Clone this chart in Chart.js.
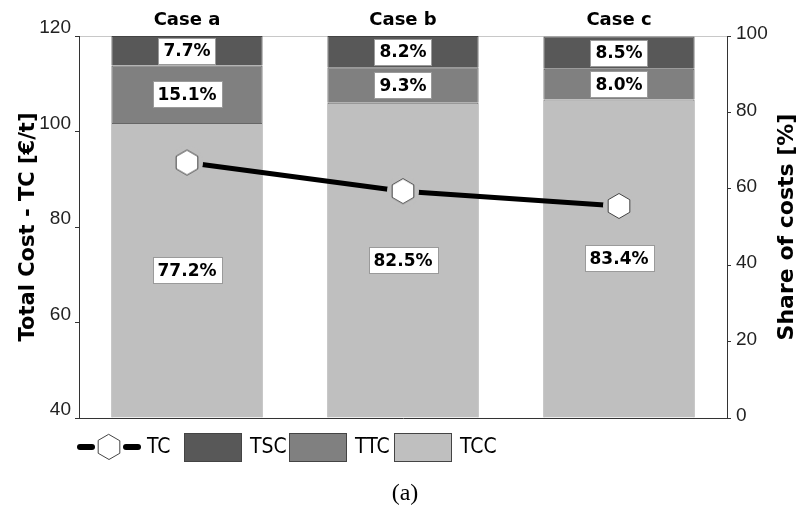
<!DOCTYPE html>
<html>
<head>
<meta charset="utf-8">
<script src="https://cdn.jsdelivr.net/npm/chart.js@4/dist/chart.umd.min.js"></script>
<style>
  html, body { margin: 0; padding: 0; background: #fff; }
  #wrap { position: relative; width: 802px; height: 512px; }
</style>
</head>
<body>
<div id="wrap"><canvas id="chart" width="802" height="512"></canvas></div>
<script>
// Cases compared
const cases = ['Case a', 'Case b', 'Case c'];
// Total cost TC [€/t] (left axis)
const totalCost = [93.5, 87.5, 84.4];
// Shares of the total cost [%] (right axis), stacked bottom to top
const shareTCC = [77.2, 82.5, 83.4];
const shareTTC = [15.1, 9.3, 8.0];
const shareTSC = [7.7, 8.2, 8.5];
// Axis ranges and steps
const costRange = [40, 120, 20];
const shareRange = [0, 100, 20];

const COL_TSC = '#585858';
const COL_TTC = '#808080';
const COL_TCC = '#bfbfbf';

// Hexagon marker (pointy top); a ring in the bar colour keeps the line off the marker
function hexPath(ctx, cx, cy, r) {
  ctx.beginPath();
  for (let i = 0; i < 6; i++) {
    const a = -Math.PI / 2 + i * Math.PI / 3;
    const px = cx + r * Math.cos(a), py = cy + r * Math.sin(a);
    if (i === 0) ctx.moveTo(px, py); else ctx.lineTo(px, py);
  }
  ctx.closePath();
}
function makeHexMarker() {
  const c = document.createElement('canvas');
  c.width = 34; c.height = 34;
  const g = c.getContext('2d');
  g.fillStyle = COL_TCC;
  g.beginPath(); g.arc(17, 17, 16, 0, Math.PI * 2); g.fill();
  hexPath(g, 17, 17, 12.5);
  g.fillStyle = '#fff'; g.fill();
  g.strokeStyle = '#444'; g.lineWidth = 1; g.stroke();
  return c;
}
const hexMarker = makeHexMarker();

// Percentage labels in white boxes, centred on each bar segment
const segmentLabels = {
  id: 'segmentLabels',
  afterDatasetsDraw(chart) {
    const ctx = chart.ctx;
    ctx.save();
    ctx.font = 'bold 17px "DejaVu Sans", sans-serif';
    ctx.textAlign = 'center';
    ctx.textBaseline = 'middle';
    chart.data.datasets.forEach((ds, di) => {
      if (ds.type !== 'bar') return;
      const meta = chart.getDatasetMeta(di);
      meta.data.forEach((el, i) => {
        const {x, y, base} = el.getProps(['x', 'y', 'base'], true);
        const cy = (y + base) / 2;
        const txt = ds.data[i].toFixed(1) + '%';
        const w = ctx.measureText(txt).width + 10;
        const h = 26;
        ctx.fillStyle = '#fff';
        ctx.fillRect(Math.round(x - w / 2) + 0.5, Math.round(cy - h / 2) + 0.5, Math.round(w), h);
        ctx.strokeStyle = '#9a9a9a';
        ctx.lineWidth = 1;
        ctx.strokeRect(Math.round(x - w / 2) + 0.5, Math.round(cy - h / 2) + 0.5, Math.round(w), h);
        ctx.fillStyle = '#000';
        ctx.fillText(txt, x, cy + 1);
      });
    });
    ctx.restore();
  }
};

// Right axis title (reads bottom to top), legend row and caption
const extras = {
  id: 'extras',
  afterDraw(chart) {
    const ctx = chart.ctx;
    const area = chart.chartArea;
    ctx.save();
    // right axis title
    ctx.translate(787, (area.top + area.bottom) / 2);
    ctx.rotate(-Math.PI / 2);
    ctx.font = 'bold 22px "DejaVu Sans", sans-serif';
    ctx.fillStyle = '#000';
    ctx.textAlign = 'center';
    ctx.textBaseline = 'middle';
    ctx.fillText('Share of costs [%]', 0, 0);
    ctx.restore();

    // legend
    ctx.save();
    const ly = 447;
    ctx.font = '21px "DejaVu Sans Condensed", "DejaVu Sans", sans-serif';
    ctx.textBaseline = 'middle';
    ctx.textAlign = 'left';
    const lineDs = chart.data.datasets.find(d => d.type === 'line');
    ctx.strokeStyle = lineDs.borderColor;
    ctx.lineWidth = 6;
    ctx.lineCap = 'round';
    ctx.beginPath(); ctx.moveTo(80, ly); ctx.lineTo(92, ly); ctx.stroke();
    ctx.beginPath(); ctx.moveTo(126, ly); ctx.lineTo(138, ly); ctx.stroke();
    hexPath(ctx, 109, ly, 12.5);
    ctx.fillStyle = '#fff'; ctx.fill();
    ctx.strokeStyle = '#444'; ctx.lineWidth = 1; ctx.stroke();
    ctx.fillStyle = '#000';
    ctx.fillText(lineDs.label, 147, ly + 1);

    const barDs = chart.data.datasets.filter(d => d.type === 'bar').slice().reverse();
    barDs.forEach((ds, i) => {
      const bx = 184 + i * 105;
      ctx.fillStyle = ds.backgroundColor;
      ctx.fillRect(bx + 0.5, 433.5, 57, 28);
      ctx.strokeStyle = '#444';
      ctx.lineWidth = 1;
      ctx.strokeRect(bx + 0.5, 433.5, 57, 28);
      ctx.fillStyle = '#000';
      ctx.fillText(ds.label, bx + 66, ly + 1);
    });

    // caption
    ctx.font = '24px "Liberation Serif", "Times New Roman", serif';
    ctx.textAlign = 'center';
    ctx.fillText('(a)', 405, 494);
    ctx.restore();
  }
};

const tickFont = { family: '"Liberation Sans", Arial, sans-serif', size: 19 };

new Chart(document.getElementById('chart'), {
  data: {
    labels: cases,
    datasets: [
      {
        type: 'line', label: 'TC', data: totalCost, yAxisID: 'yL', xAxisID: 'x',
        borderColor: '#000', borderWidth: 5, tension: 0,
        pointStyle: hexMarker, pointRadius: 12, pointHoverRadius: 12,
        order: 0
      },
      { type: 'bar', label: 'TCC', data: shareTCC, backgroundColor: COL_TCC, borderColor: '#666', borderWidth: 1, yAxisID: 'yR', xAxisID: 'x', order: 1 },
      { type: 'bar', label: 'TTC', data: shareTTC, backgroundColor: COL_TTC, borderColor: '#555', borderWidth: 1, yAxisID: 'yR', xAxisID: 'x', order: 1 },
      { type: 'bar', label: 'TSC', data: shareTSC, backgroundColor: COL_TSC, borderColor: '#444', borderWidth: 1, yAxisID: 'yR', xAxisID: 'x', order: 1 }
    ]
  },
  options: {
    responsive: false,
    animation: false,
    events: [],
    layout: { padding: 0 },
    datasets: { bar: { categoryPercentage: 1.0, barPercentage: 0.7 } },
    plugins: { legend: { display: false }, tooltip: { enabled: false } },
    scales: {
      x: {
        type: 'category', position: 'bottom', stacked: true, offset: true,
        grid: { display: false },
        border: { display: true, color: '#333', width: 1 },
        ticks: { display: false },
        afterFit(s) { s.height = 94; }
      },
      x2: {
        type: 'category', position: 'top', labels: cases, offset: true,
        grid: { display: false },
        border: { display: true, color: '#c8c8c8', width: 1 },
        ticks: { color: '#000', padding: -3, font: { family: '"DejaVu Sans", sans-serif', size: 18, weight: 'bold' } },
        afterFit(s) { s.height = 36; }
      },
      yL: {
        type: 'linear', position: 'left',
        min: costRange[0], max: costRange[1],
        ticks: { stepSize: costRange[2], color: '#222', font: tickFont, padding: 4, labelOffset: -8 },
        grid: { drawOnChartArea: false, drawTicks: true, tickLength: 4, color: '#333' },
        border: { display: true, color: '#333', width: 1 },
        title: {
          display: true, text: 'Total Cost - TC [€/t]', color: '#000',
          font: { family: '"DejaVu Sans", sans-serif', size: 21, weight: 'bold' },
          padding: { top: 16, bottom: 0 }
        },
        afterFit(s) { s.width = 79; }
      },
      yR: {
        type: 'linear', position: 'right', stacked: true,
        min: shareRange[0], max: shareRange[1],
        ticks: { stepSize: shareRange[2], color: '#222', font: tickFont, padding: 5, labelOffset: -2 },
        grid: { drawOnChartArea: false, drawTicks: true, tickLength: 4, color: '#333' },
        border: { display: true, color: '#333', width: 1 },
        afterFit(s) { s.width = 75; }
      }
    }
  },
  plugins: [segmentLabels, extras]
});
</script>
</body>
</html>
